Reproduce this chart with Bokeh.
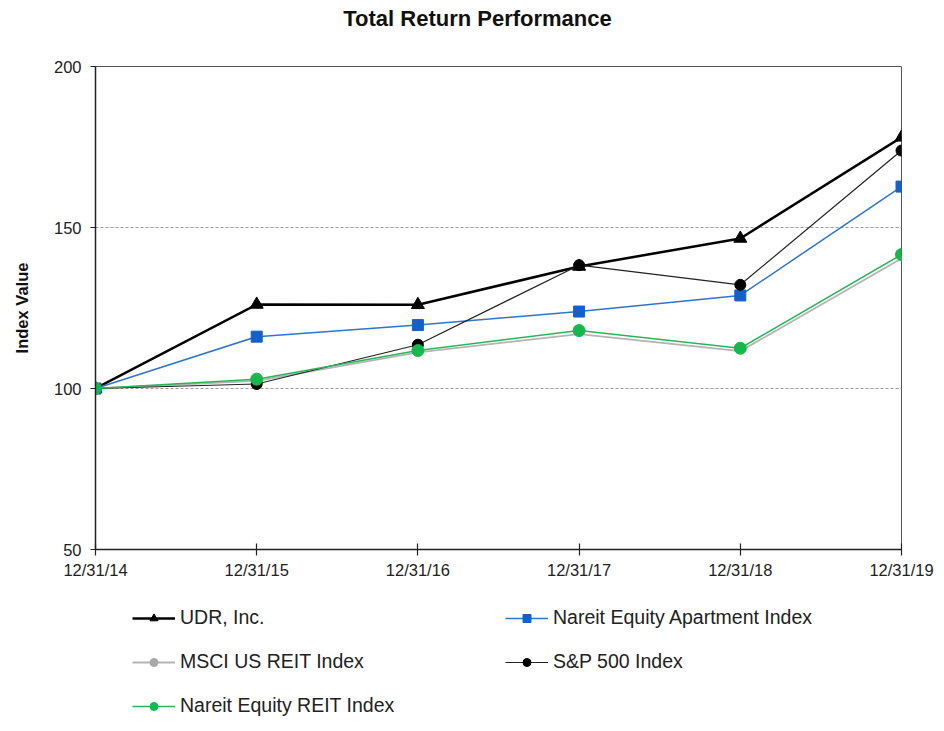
from bokeh.plotting import figure
from bokeh.models import Legend, LegendItem, FixedTicker, Label, Range1d
from bokeh.layouts import column
from bokeh.embed import file_html
from bokeh.resources import INLINE

dates = ["12/31/14", "12/31/15", "12/31/16", "12/31/17", "12/31/18", "12/31/19"]
udr = [100.0, 126.1, 126.0, 137.9, 146.6, 178.0]
nareit_apt = [100.0, 116.1, 119.7, 123.9, 128.9, 162.7]
msci_reit = [100.0, 102.4, 111.2, 116.9, 111.6, 140.4]
sp500 = [100.0, 101.4, 113.6, 138.3, 132.2, 173.9]
nareit_reit = [100.0, 102.9, 111.8, 118.0, 112.5, 141.6]
y_ticks = [50, 100, 150, 200]
series_names = ["UDR, Inc.", "Nareit Equity Apartment Index", "MSCI US REIT Index",
                "S&P 500 Index", "Nareit Equity REIT Index"]
title_text = "Total Return Performance"

x = list(range(len(dates)))
FONT = "Liberation Sans"
W = 940
FX0, FX1 = 95, 901  # frame left / right in page pixels

# styles per series: (line colour, line width, marker, marker size, marker colour)
styles = [
    ("black", 2.5, "triangle", 13, "black"),
    ("#2e75cf", 1.5, "square", 11, "#1560c8"),
    ("#b4b4b4", 1.8, "circle", 5, "#a8a8a8"),
    ("#222222", 1.2, "circle", 11, "black"),
    ("#2bb55a", 1.5, "circle", 12, "#14b84c"),
]
values = [udr, nareit_apt, msci_reit, sp500, nareit_reit]


def blank(fig):
    fig.outline_line_color = None
    fig.xgrid.grid_line_color = None
    fig.ygrid.grid_line_color = None
    fig.background_fill_color = "white"
    fig.border_fill_color = "white"


# ---- title strip ----
TH = 54
pt = figure(width=W, height=TH, output_backend="svg", toolbar_location=None,
            x_range=Range1d(FX0, FX1), y_range=Range1d(0, TH),
            x_axis_location=None, y_axis_location=None,
            min_border_left=FX0, min_border_right=W - FX1, min_border_top=0, min_border_bottom=0)
blank(pt)
pt.add_layout(Label(x=477, y=TH - 18, text=title_text, text_align="center",
                    text_baseline="middle", text_font=FONT, text_font_size="22px",
                    text_font_style="bold", text_color="#111111"))

# ---- main chart ----
MH = 535
p = figure(width=W, height=MH, output_backend="svg", toolbar_location=None,
           x_range=(0, len(dates) - 1), y_range=(50, 200),
           min_border_left=FX0, min_border_right=W - FX1, min_border_top=12,
           min_border_bottom=40)

p.outline_line_color = "#555555"
p.outline_line_width = 1
p.background_fill_color = "white"
p.border_fill_color = "white"

p.xgrid.grid_line_color = None
p.ygrid.grid_line_color = "#9a9a9a"
p.ygrid.grid_line_dash = "3 2"
p.ygrid.grid_line_width = 1

p.yaxis.ticker = FixedTicker(ticks=y_ticks)
p.xaxis.ticker = FixedTicker(ticks=x)
p.xaxis.major_label_overrides = {i: d for i, d in enumerate(dates)}
for ax in (p.xaxis, p.yaxis):
    ax.axis_line_color = "#222222"
    ax.axis_line_width = 1.5
    ax.major_tick_line_color = "#222222"
    ax.major_tick_line_width = 1.2
    ax.minor_tick_line_color = None
    ax.major_label_text_font = FONT
    ax.major_label_text_font_size = "16.5px"
    ax.major_label_text_color = "#222222"
p.yaxis.major_tick_in = 0
p.yaxis.major_tick_out = 5
p.xaxis.major_tick_in = 6
p.xaxis.major_tick_out = 6
p.xaxis.major_label_standoff = 5
p.yaxis.major_label_standoff = 9
p.yaxis.axis_label = "Index Value"
p.yaxis.axis_label_text_font = FONT
p.yaxis.axis_label_text_font_size = "16.5px"
p.yaxis.axis_label_text_font_style = "bold"
p.yaxis.axis_label_text_color = "#111111"
p.yaxis.axis_label_standoff = 20

for vals, (lc, lw, mk, ms, mc) in zip(values, styles):
    p.line(x, vals, line_color=lc, line_width=lw)
    p.scatter(x, vals, marker=mk, size=ms, fill_color=mc, line_color=mc)

# ---- legend strip ----
LH = 728 - TH - MH
pl = figure(width=W, height=LH, output_backend="svg", toolbar_location=None,
            x_range=Range1d(FX0, FX1), y_range=Range1d(0, LH),
            x_axis_location=None, y_axis_location=None,
            min_border_left=FX0, min_border_right=W - FX1, min_border_top=0, min_border_bottom=0)
blank(pl)
items = {}
for name, vals, (lc, lw, mk, ms, mc) in zip(series_names, values, styles):
    # hidden copies of each series, used only to draw the legend samples
    rl = pl.line(x, vals, line_color=lc, line_width=lw, visible=False)
    rm = pl.scatter(x, vals, marker=mk, size=ms, fill_color=mc, line_color=mc, visible=False)
    items[name] = LegendItem(label=name, renderers=[rl, rm])

# legend fills column by column: reorder so rows read as in the reference
order = [0, 2, 4, 1, 3]
legend = Legend(items=[items[series_names[i]] for i in order], ncols=2,
                location=(132 - FX0, 11),
                glyph_width=43, glyph_height=20, label_height=23,
                label_width=304, label_standoff=5, spacing=21, padding=0, margin=0,
                label_text_font=FONT, label_text_font_size="19.5px",
                label_text_color="#222222", inactive_fill_alpha=0,
                border_line_color=None, background_fill_alpha=0)
pl.add_layout(legend, "center")

layout = column(pt, p, pl, spacing=0)
open("out.html", "w").write(file_html(layout, INLINE))
